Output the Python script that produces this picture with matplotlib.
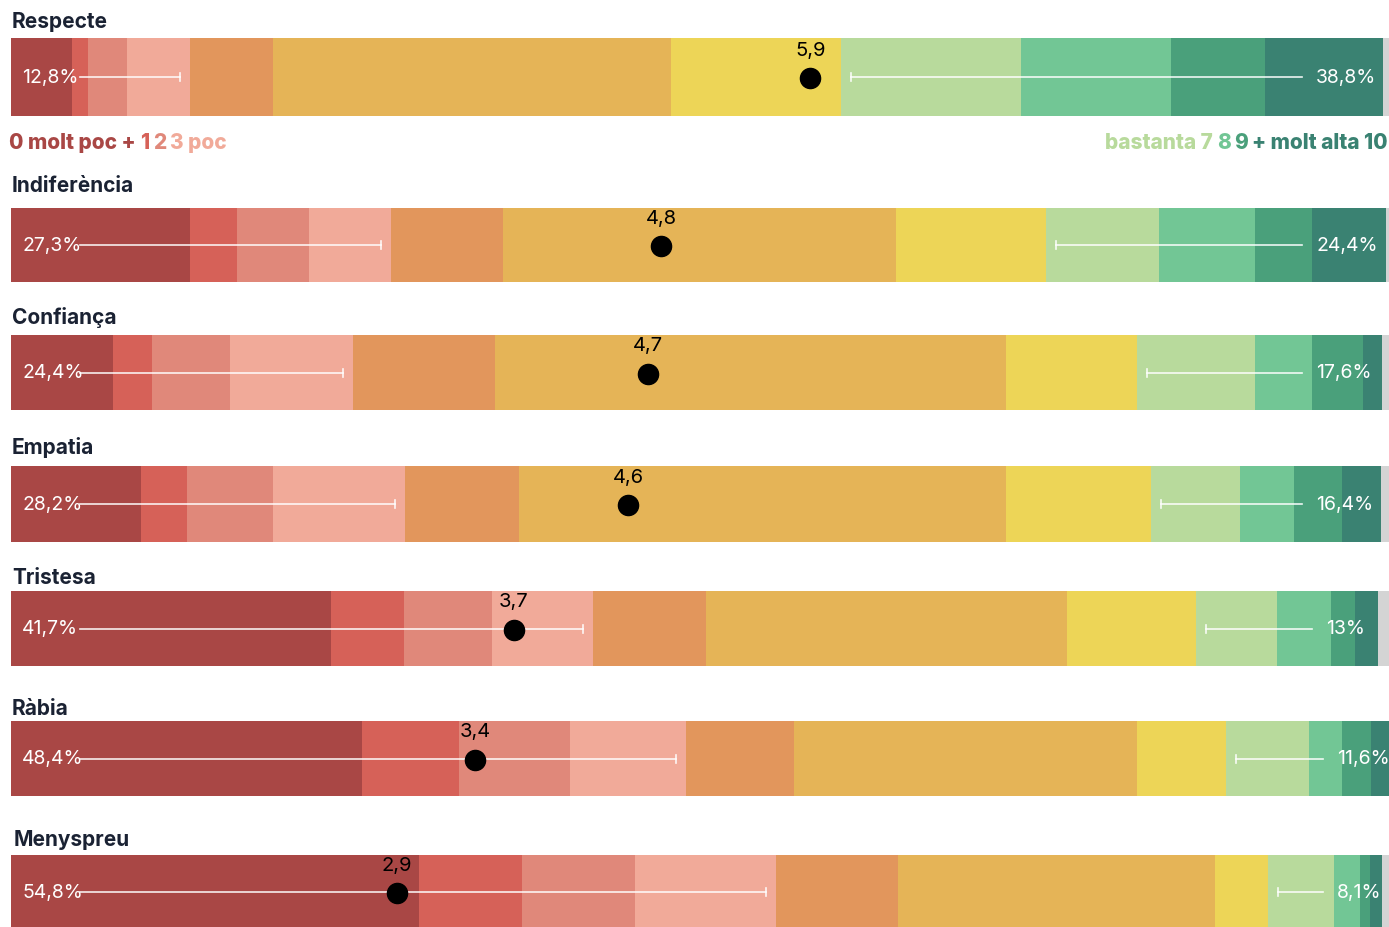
import matplotlib.pyplot as plt
import numpy as np

plt.rcParams['font.family'] = ['Inter', 'DejaVu Sans']

emotions = ['Respecte', 'Indiferència', 'Confiança', 'Empatia', 'Tristesa', 'Ràbia', 'Menyspreu']

# % of answers for scores 0..10, last value = no answer
respecte = [4.4, 1.2, 2.8, 4.6, 6.0, 28.9, 12.3, 13.1, 10.9, 6.8, 8.6, 0.4]
indiferencia = [13.0, 3.4, 5.2, 6.0, 8.1, 28.5, 10.9, 8.2, 7.0, 4.1, 5.4, 0.2]
confianca = [7.4, 2.8, 5.7, 8.9, 10.3, 37.1, 9.5, 8.6, 4.1, 3.7, 1.4, 0.5]
empatia = [9.4, 3.4, 6.2, 9.6, 8.3, 35.3, 10.5, 6.5, 3.9, 3.5, 2.8, 0.6]
tristesa = [23.2, 5.3, 6.4, 7.3, 8.2, 26.2, 9.4, 5.9, 3.9, 1.7, 1.7, 0.8]
rabia = [25.5, 7.0, 8.1, 8.4, 7.8, 24.9, 6.5, 6.0, 2.4, 2.1, 1.3, 0.2]
menyspreu = [29.6, 7.5, 8.2, 10.2, 8.9, 23.0, 3.8, 4.8, 1.9, 0.7, 0.9, 0.5]
shares = [respecte, indiferencia, confianca, empatia, tristesa, rabia, menyspreu]

# mean score (0-10)
means = [5.88, 4.80, 4.70, 4.56, 3.73, 3.449, 2.88]
low_labels = ['12,8%', '27,3%', '24,4%', '28,2%', '41,7%', '48,4%', '54,8%']
high_labels = ['38,8%', '24,4%', '17,6%', '16,4%', '13%', '11,6%', '8,1%']

colors = ['#a94745', '#d66158', '#e0887a', '#f1aa99', '#e2965c', '#e5b457',
          '#edd557', '#b8da9c', '#72c695', '#4aa07b', '#3a8272', '#d4d4d4']
title_color = '#1a2233'

# layout in pixels
W, H = 1389, 928
x0_px, bar_w_px = 11, 1378
bar_top = [39, 209, 336, 467, 592, 722, 856]
bar_bot = [117, 283, 411, 543, 667, 797, 930]
title_y = [22, 186, 318, 448, 578, 709, 840]
title_x = [12, 12, 12, 12, 12, 12, 14]
right_lab_x = [1316, 1316, 1316, 1316, 1326, 1337, 1337]


def px(x):
    return (x - x0_px) / bar_w_px * 100


fig = plt.figure(figsize=(W / 100, H / 100), dpi=100)
ax = fig.add_axes([x0_px / W, 0, bar_w_px / W, 1])
ax.set_xlim(0, 100)
ax.set_ylim(H, 0)
ax.axis('off')

for i, name in enumerate(emotions):
    vals = np.array(shares[i])
    lefts = np.concatenate([[0], np.cumsum(vals)[:-1]])
    yc = (bar_top[i] + bar_bot[i]) / 2
    hgt = bar_bot[i] - bar_top[i]
    ax.barh(yc, vals, left=lefts, height=hgt, color=colors, linewidth=0)

    ax.text(px(title_x[i]), title_y[i], name, fontsize=15, fontweight='bold',
            color=title_color, va='center', ha='left')

    off = 10 / bar_w_px * 100
    # low scores line
    x_end = vals[:4].sum() - off
    ax.plot([px(80), x_end], [yc, yc], color='white', lw=1.2, alpha=0.9, zorder=3)
    ax.plot([x_end, x_end], [yc - 4, yc + 4], color='white', lw=1.2, alpha=0.9, zorder=3)
    ax.text(px(22), yc, low_labels[i], color='white', fontsize=14,
            va='center', ha='left', zorder=4)

    # high scores line
    x_start = vals[:7].sum() + off
    x_lab = px(right_lab_x[i])
    ax.plot([x_start, x_lab - px(25)], [yc, yc], color='white', lw=1.2, alpha=0.9, zorder=3)
    ax.plot([x_start, x_start], [yc - 4, yc + 4], color='white', lw=1.2, alpha=0.9, zorder=3)
    ax.text(x_lab, yc, high_labels[i], color='white', fontsize=14,
            va='center', ha='left', zorder=4, clip_on=False)

    # mean
    xm = means[i] * 10 - 0.8
    ax.plot(xm, yc + 1, 'o', color='black', ms=14.5, zorder=5)
    ax.text(xm, yc - 27, f'{means[i]:.1f}'.replace('.', ','), color='black',
            fontsize=14.5, ha='center', va='center', zorder=5)

# legend row under first bar
renderer = fig.canvas.get_renderer()
inv = ax.transData.inverted()
gap = 4 / bar_w_px * 100

left_parts = [('0 molt poc +', colors[0]), ('1', colors[1]), ('2', colors[2]), ('3 poc', colors[3])]
x = px(9)
for txt, c in left_parts:
    t = ax.text(x, 143, txt, color=c, fontsize=15, fontweight='heavy', va='center', ha='left')
    bb = t.get_window_extent(renderer)
    x = inv.transform((bb.x1, bb.y0))[0] + gap

right_parts = [('bastanta 7', colors[7]), ('8', colors[8]), ('9', colors[9]), ('+ molt alta 10', colors[10])]
x = px(1388)
for txt, c in reversed(right_parts):
    t = ax.text(x, 143, txt, color=c, fontsize=15, fontweight='heavy', va='center', ha='right',
                clip_on=False)
    bb = t.get_window_extent(renderer)
    x = inv.transform((bb.x0, bb.y0))[0] - gap

fig.savefig('out.png', dpi=100)
